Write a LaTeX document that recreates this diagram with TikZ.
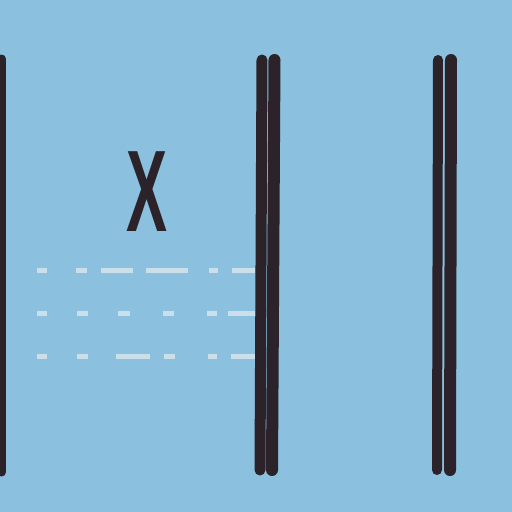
\documentclass[tikz,border=0pt]{standalone}
\usepackage{fontspec}
\setmainfont{Liberation Sans}
\begin{document}
\begin{tikzpicture}[x=1pt,y=-1pt,
  bar/.style={draw=barcol,line width=#1,line cap=round},
  bar/.default=11,
  guide/.style={draw=dashcol,line width=5,line cap=butt}]
\definecolor{bgcol}{HTML}{8BC0DE}
\definecolor{barcol}{HTML}{2B2329}
\definecolor{dashcol}{HTML}{CADFEA}
\fill[bgcol] (0,0) rectangle (512,512);
\useasboundingbox (0,0) rectangle (512,512);
% left edge bar
\draw[bar=9] (1.5,59) -- (1.5,472);
% dashed guides
\draw[guide,dash pattern=on 10 off 29 on 11 off 14 on 32 off 13 on 42 off 21 on 9 off 14 on 23 off 100] (37,270) -- (256,270);
\draw[guide,dash pattern=on 10 off 30 on 11 off 30 on 12 off 33 on 11 off 33 on 10 off 11 on 27 off 100] (37,313) -- (256,313);
\draw[guide,dash pattern=on 10 off 30 on 11 off 28 on 34 off 14 on 11 off 33 on 9 off 14 on 24 off 100] (37,356) -- (256,356);
% double bar 1
\draw[bar=11] (262,60) -- (260,470);
\draw[bar=12] (274.5,60) -- (272,470);
% double bar 2
\draw[bar=10] (438,60) -- (437,470);
\draw[bar=12] (451,60) -- (450,470);
% letter
\node[text=barcol,font=\bfseries\fontsize{116}{116}\selectfont,xscale=0.53,inner sep=0] (lbl) at (147.5,191.5) {X};
\end{tikzpicture}
\end{document}
